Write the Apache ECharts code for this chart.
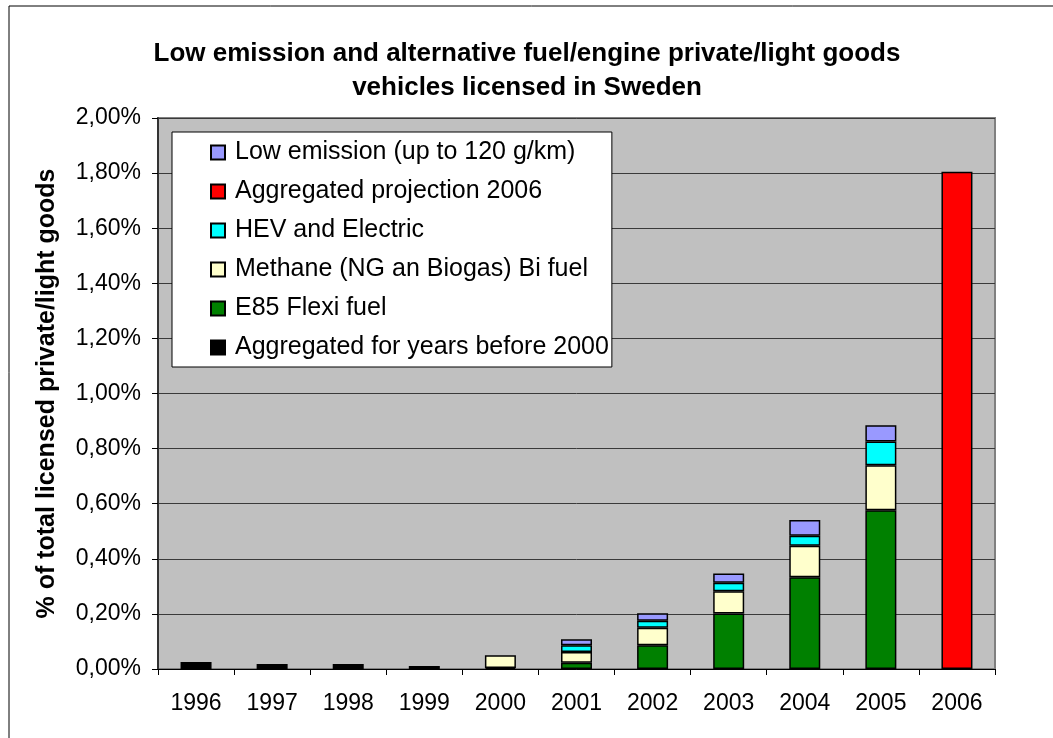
<!DOCTYPE html>
<html>
<head>
<meta charset="utf-8">
<script src="https://cdn.jsdelivr.net/npm/echarts@6/dist/echarts.min.js"></script>
<style>
  html, body { margin: 0; padding: 0; background: #fff; }
  #chart { width: 1053px; height: 738px; }
</style>
</head>
<body>
<div id="chart"></div>
<script>
// Licensing years
const years = ['1996', '1997', '1998', '1999', '2000', '2001', '2002', '2003', '2004', '2005', '2006'];

// Shares of total licensed private/light goods vehicles, in percent
const aggregatedBefore2000 = [0.025, 0.018, 0.018, 0.011, 0, 0, 0, 0, 0, 0, 0];
const e85FlexiFuel        = [0, 0, 0, 0, 0.004, 0.023, 0.086, 0.201, 0.333, 0.576, 0];
const methaneBiFuel       = [0, 0, 0, 0, 0.046, 0.039, 0.064, 0.081, 0.114, 0.164, 0];
const hevAndElectric      = [0, 0, 0, 0, 0, 0.024, 0.025, 0.031, 0.037, 0.086, 0];
const projection2006      = [0, 0, 0, 0, 0, 0, 0, 0, 0, 0, 1.805];
const lowEmission         = [0, 0, 0, 0, 0, 0.022, 0.027, 0.034, 0.057, 0.059, 0];

// Value axis ticks
const yTicks = [0, 0.2, 0.4, 0.6, 0.8, 1.0, 1.2, 1.4, 1.6, 1.8, 2.0];

const FONT = '"Liberation Sans", Arial, sans-serif';

// Stack order from the bottom up
const stackSeries = [
  { name: 'Aggregated for years before 2000', data: aggregatedBefore2000, color: '#000000' },
  { name: 'E85 Flexi fuel', data: e85FlexiFuel, color: '#008000' },
  { name: 'Methane (NG an Biogas) Bi fuel', data: methaneBiFuel, color: '#FFFFCC' },
  { name: 'HEV and Electric', data: hevAndElectric, color: '#00FFFF' },
  { name: 'Aggregated projection 2006', data: projection2006, color: '#FF0000' },
  { name: 'Low emission (up to 120 g/km)', data: lowEmission, color: '#9999FF' }
];

const chart = echarts.init(document.getElementById('chart'), null, { renderer: 'canvas' });

chart.setOption({
  backgroundColor: '#ffffff',
  animation: false,
  title: {
    text: 'Low emission and alternative fuel/engine private/light goods\nvehicles licensed in Sweden',
    left: 522,
    textAlign: 'center',
    top: 32,
    textStyle: {
      fontFamily: FONT,
      fontWeight: 'bold',
      fontSize: 26,
      lineHeight: 34,
      color: '#000'
    }
  },
  graphic: [{
    type: 'rect',
    shape: { x: 9, y: 6, width: 1060, height: 760 },
    style: { fill: 'none', stroke: '#000', lineWidth: 1 },
    z: -1
  }],
  legend: {
    orient: 'vertical',
    left: 172,
    top: 132,
    data: stackSeries.map(s => s.name).reverse(),
    itemWidth: 14,
    itemHeight: 14,
    itemGap: 14,
    padding: [8, 3, 7, 38],
    backgroundColor: '#ffffff',
    borderColor: '#000',
    borderWidth: 1,
    icon: 'rect',
    selectedMode: false,
    textStyle: {
      fontFamily: FONT,
      fontSize: 25,
      color: '#000',
      padding: [0, 0, 0, 5]
    }
  },
  grid: {
    left: 158,
    top: 118,
    right: 58,
    bottom: 69,
    show: true,
    backgroundColor: '#C0C0C0',
    borderColor: '#808080',
    borderWidth: 2,
    containLabel: false
  },
  xAxis: {
    type: 'category',
    data: years,
    boundaryGap: true,
    axisLine: { show: true, lineStyle: { color: '#000', width: 1 } },
    axisTick: { show: true, alignWithLabel: false, length: 6, lineStyle: { color: '#000' } },
    axisLabel: {
      margin: 23,
      fontFamily: FONT,
      fontSize: 23,
      color: '#000'
    }
  },
  yAxis: {
    type: 'value',
    min: 0,
    max: 2,
    interval: 0.2,
    name: '% of total licensed private/light goods',
    nameLocation: 'middle',
    nameGap: 98,
    nameTextStyle: {
      fontFamily: FONT,
      fontWeight: 'bold',
      fontSize: 25,
      color: '#000'
    },
    axisLine: { show: true, lineStyle: { color: '#333', width: 2 } },
    axisTick: { show: true, length: 6, lineStyle: { color: '#000' } },
    axisLabel: {
      margin: 17,
      fontFamily: FONT,
      fontSize: 23,
      color: '#000',
      formatter: v => {
        const t = yTicks.find(x => Math.abs(x - v) < 1e-9);
        return (t !== undefined ? t : v).toFixed(2).replace('.', ',') + '%';
      }
    },
    splitLine: { show: true, lineStyle: { color: '#3a3a3a', width: 1 } }
  },
  series: stackSeries.map(s => ({
    name: s.name,
    type: 'bar',
    stack: 'total',
    barWidth: 31,
    data: s.data.map(v => (v === 0 ? '-' : v)),
    itemStyle: { color: s.color, borderColor: '#000', borderWidth: 1.5 }
  }))
});
</script>
</body>
</html>
